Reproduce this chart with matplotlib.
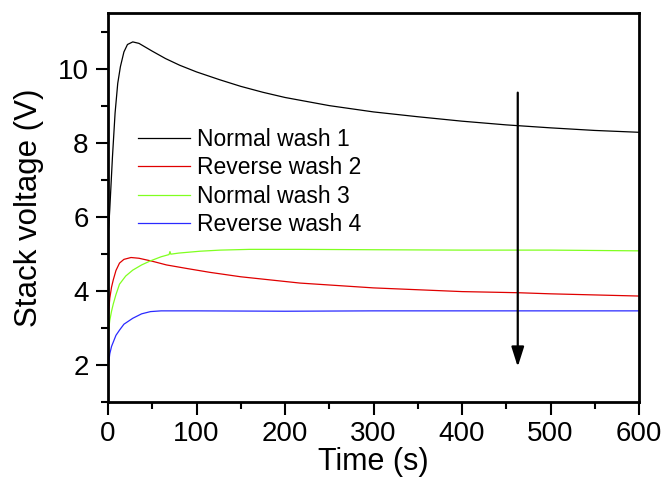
import matplotlib
matplotlib.use("Agg")
import matplotlib.pyplot as plt
from matplotlib.ticker import MultipleLocator

plt.rcParams['font.family'] = ['Liberation Sans', 'DejaVu Sans']

# ---- data ----
t_black = [0, 1, 2, 5, 8, 11, 14, 18, 22, 28, 35, 50, 65, 81, 100, 126, 150, 175, 200, 250, 300, 350, 400, 450, 500, 550, 600]
v_black = [5.5, 5.8, 6.2, 7.6, 8.8, 9.6, 10.05, 10.45, 10.65, 10.72, 10.68, 10.47, 10.27, 10.09, 9.91, 9.7, 9.52, 9.36, 9.22, 9.0, 8.83, 8.7, 8.58, 8.48, 8.4, 8.33, 8.28]

t_red = [0, 1, 2, 4, 6, 9, 13, 18, 26, 35, 50, 66, 90, 115, 150, 217, 300, 400, 463, 500, 600]
v_red = [3.2, 3.5, 3.8, 4.1, 4.3, 4.55, 4.75, 4.85, 4.9, 4.88, 4.8, 4.7, 4.6, 4.5, 4.38, 4.21, 4.08, 3.98, 3.95, 3.92, 3.86]

t_green = [0, 1, 2, 4, 6, 9, 13, 20, 28, 38, 48, 60, 69, 70, 71, 80, 104, 127, 160, 217, 300, 400, 500, 600]
v_green = [2.8, 3.0, 3.2, 3.45, 3.65, 3.9, 4.18, 4.4, 4.56, 4.7, 4.81, 4.92, 4.98, 5.06, 4.99, 5.02, 5.07, 5.1, 5.12, 5.12, 5.11, 5.1, 5.1, 5.08]

t_blue = [0, 1, 2, 4, 6, 9, 13, 18, 28, 38, 48, 60, 100, 200, 300, 400, 500, 600]
v_blue = [1.87, 2.1, 2.3, 2.5, 2.62, 2.8, 2.94, 3.1, 3.26, 3.38, 3.44, 3.46, 3.46, 3.45, 3.46, 3.46, 3.46, 3.46]

labels = ["Normal wash 1", "Reverse wash 2", "Normal wash 3", "Reverse wash 4"]
colors = ["#000000", "#e00000", "#80ff20", "#2a2aff"]

arrow_x = 463
arrow_from = 9.35
arrow_to = 1.95

# ---- figure ----
fig = plt.figure(figsize=(6.65, 4.87), dpi=100)
ax = fig.add_axes([108/665, 1-402/487, (639-108)/665, (402-13)/487])

series = [(t_black, v_black), (t_red, v_red), (t_green, v_green), (t_blue, v_blue)]
for (t, v), lab, c in zip(series, labels, colors):
    ax.plot(t, v, color=c, lw=0.9, label=lab)

ax.annotate("", xy=(arrow_x, arrow_to), xytext=(arrow_x, arrow_from),
            arrowprops=dict(arrowstyle="-|>,head_length=1.2,head_width=0.38",
                            color="black", lw=1.6, shrinkA=0, shrinkB=0))

ax.set_xlim(0, 600)
ax.set_ylim(1, 11.5)
ax.xaxis.set_major_locator(MultipleLocator(100))
ax.xaxis.set_minor_locator(MultipleLocator(50))
ax.yaxis.set_major_locator(MultipleLocator(2))
ax.yaxis.set_minor_locator(MultipleLocator(1))
ax.tick_params(which='both', direction='out', top=False, right=False, width=1.5)
ax.tick_params(which='major', length=9, labelsize=20, pad=5)
ax.tick_params(which='minor', length=5)
for s in ax.spines.values():
    s.set_linewidth(2.0)

ax.set_xlabel("Time (s)", fontsize=22, labelpad=0)
ax.set_ylabel("Stack voltage (V)", fontsize=22.5, labelpad=10)

leg = ax.legend(loc='upper left', bbox_to_anchor=(0.0565, 0.705), frameon=False,
                fontsize=16.5, handlelength=2.27, handletextpad=0.3,
                labelspacing=0.24, borderpad=0, borderaxespad=0)

fig.savefig("out.png", dpi=100)
